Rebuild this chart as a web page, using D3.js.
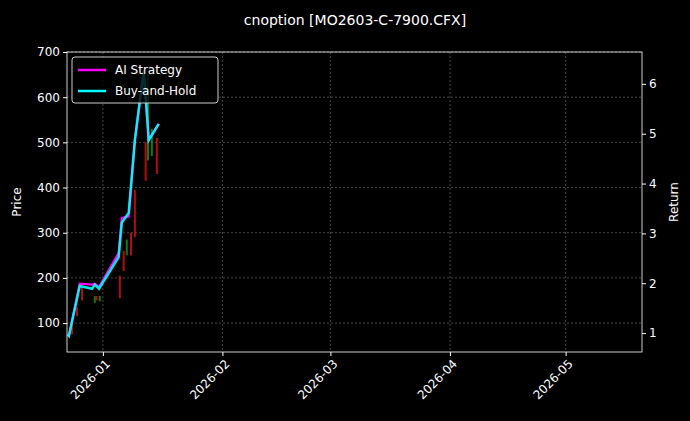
<!DOCTYPE html>
<html><head><meta charset="utf-8">
<script src="https://cdn.jsdelivr.net/npm/d3@7"></script>
<style>body{margin:0;background:#000}text{font-family:"DejaVu Sans",sans-serif}</style>
</head><body><svg width="690" height="421"></svg>
<script>
// day offsets from 2026-01-01
const candleDays = [-8.0, -6.7, -5.4, -2.1, -1.6, -0.8, 4.4, 5.4, 6.2, 7.3, 8.3, 11.1, 11.7, 12.7, 14.0];
const candleOpen = [100, 135, 180, 145, 160, 148, 205, 260, 250, 300, 395, 500, 460, 470, 510];
const candleClose = [75, 115, 150, 160, 150, 160, 155, 215, 285, 250, 290, 415, 650, 530, 430];
const lineDays = [-9.1, -8.8, -6.0, -2.8, -2.1, -1.0, 4.1, 4.9, 6.7, 8.3, 10.6, 11.9, 14.5];
const aiValues = [75, 72, 187, 185, 187, 180, 255, 333, 336, 505, 655, 505, 541];
const bhValues = [75, 72, 182, 176, 185, 176, 246, 322, 344, 505, 660, 505, 541];
const monthTicks = ["2026-01", "2026-02", "2026-03", "2026-04", "2026-05"];

const svg = d3.select("svg");
const m = {l: 67, r: 642, t: 52, b: 352};
const day0 = new Date(2026, 0, 1);
const toDate = d => new Date(day0.getTime() + d * 864e5);
const x = d3.scaleTime().domain([toDate(-9.3), toDate(139.8)]).range([m.l, m.r]);
const y = d3.scaleLinear().domain([36, 700]).range([m.b, m.t]);
const yR = d3.scaleLinear().domain([0.62, 6.64]).range([m.b, m.t]);
const tickDates = monthTicks.map(s => new Date(+s.slice(0, 4), +s.slice(5) - 1, 1));

// grid
const g = svg.append("g").attr("stroke", "#777").attr("stroke-dasharray", "2,2").attr("stroke-width", 0.6);
tickDates.forEach(d => g.append("line").attr("x1", x(d)).attr("x2", x(d)).attr("y1", m.t).attr("y2", m.b));
d3.range(100, 701, 100).forEach(v => g.append("line").attr("x1", m.l).attr("x2", m.r).attr("y1", y(v)).attr("y2", y(v)));

// candles
svg.append("g").selectAll("line").data(candleDays).join("line")
  .attr("x1", d => x(toDate(d))).attr("x2", d => x(toDate(d)))
  .attr("y1", (d, i) => y(candleOpen[i])).attr("y2", (d, i) => y(candleClose[i]))
  .attr("stroke", (d, i) => candleClose[i] >= candleOpen[i] ? "#1a9a1a" : "#e01010")
  .attr("stroke-width", 2).attr("opacity", 0.8);

const line = vals => d3.line().x((d, i) => x(toDate(d))).y((d, i) => y(vals[i]))(lineDays);
svg.append("path").attr("d", line(aiValues)).attr("fill", "none").attr("stroke", "#ff00ff").attr("stroke-width", 2.2);
svg.append("path").attr("d", line(bhValues)).attr("fill", "none").attr("stroke", "#00ffff").attr("stroke-width", 2.5).attr("opacity", 0.9);

// frame & axes
svg.append("rect").attr("x", m.l).attr("y", m.t).attr("width", m.r - m.l).attr("height", m.b - m.t)
  .attr("fill", "none").attr("stroke", "#fff").attr("stroke-width", 0.8);
const ax = svg.append("g").attr("transform", `translate(0,${m.b})`)
  .call(d3.axisBottom(x).tickValues(tickDates).tickFormat(d3.timeFormat("%Y-%m")).tickSize(4));
ax.selectAll("text").attr("transform", "rotate(-45)").attr("text-anchor", "end").attr("dx", "-0.3em").attr("dy", "0.6em");
svg.append("g").attr("transform", `translate(${m.l},0)`).call(d3.axisLeft(y).tickValues(d3.range(100, 701, 100)).tickSize(4));
svg.append("g").attr("transform", `translate(${m.r},0)`).call(d3.axisRight(yR).tickValues([1, 2, 3, 4, 5, 6]).tickFormat(d3.format("d")).tickSize(4));
svg.selectAll(".tick text").attr("fill", "#fff").attr("font-size", 12);
svg.selectAll(".tick line").attr("stroke", "#fff");
svg.selectAll(".domain").remove();

svg.append("text").attr("x", 355).attr("y", 25).attr("text-anchor", "middle").attr("fill", "#fff").attr("font-size", 14).text("cnoption [MO2603-C-7900.CFX]");
svg.append("text").attr("transform", `translate(21,${(m.t + m.b) / 2}) rotate(-90)`).attr("text-anchor", "middle").attr("fill", "#fff").attr("font-size", 12).text("Price");
svg.append("text").attr("transform", `translate(678,${(m.t + m.b) / 2}) rotate(-90)`).attr("text-anchor", "middle").attr("fill", "#fff").attr("font-size", 12).text("Return");

// legend
const lg = svg.append("g").attr("transform", "translate(72,57)");
lg.append("rect").attr("width", 146).attr("height", 46).attr("rx", 3).attr("fill", "#000").attr("fill-opacity", 0.8).attr("stroke", "#ccc");
[["AI Strategy", "#ff00ff"], ["Buy-and-Hold", "#00ffff"]].forEach(([t, c], i) => {
  lg.append("line").attr("x1", 6).attr("x2", 34).attr("y1", 13 + i * 21).attr("y2", 13 + i * 21).attr("stroke", c).attr("stroke-width", 2.5);
  lg.append("text").attr("x", 43).attr("y", 17 + i * 21).attr("fill", "#fff").attr("font-size", 12).text(t);
});
</script></body></html>
